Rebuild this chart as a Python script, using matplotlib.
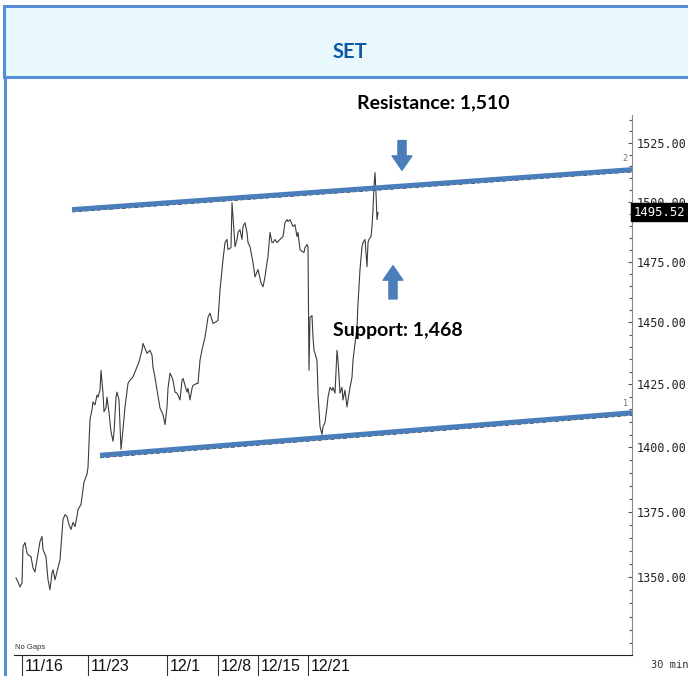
import matplotlib
matplotlib.use("Agg")
import matplotlib.pyplot as plt
import matplotlib.transforms as mtransforms
from matplotlib.patches import Rectangle
from matplotlib.lines import Line2D
from matplotlib.ticker import FixedLocator, FixedFormatter, NullFormatter

# 30 min bars (bar index) and close prices
bars = [0, 2, 4, 6, 7, 9, 11, 12, 15, 17, 19, 21, 24, 26, 27, 30, 32, 34, 36, 37,
        39, 42, 44, 47, 49, 51, 53, 55, 57, 59, 61, 62, 65, 67, 68, 71, 72, 73, 74, 76,
        77, 79, 81, 82, 84, 85, 87, 88, 90, 91, 93, 95, 97, 98, 100, 101, 103, 105, 106, 107,
        109, 112, 114, 117, 121, 123, 126, 127, 129, 131, 134, 136, 137, 139, 141, 144, 147, 149, 151, 152,
        154, 156, 157, 159, 161, 162, 164, 166, 167, 169, 171, 172, 174, 176, 177, 181, 182, 184, 186, 189,
        192, 194, 197, 199, 202, 204, 207, 209, 211, 212, 215, 216, 217, 219, 221, 222, 224, 226, 227, 229,
        231, 232, 234, 237, 239, 242, 245, 247, 249, 251, 252, 254, 256, 257, 259, 261, 264, 267, 269, 271,
        272, 274, 277, 279, 281, 282, 284, 286, 288, 289, 291, 292, 293, 294, 296, 297, 298, 299, 301, 302,
        304, 306, 307, 309, 311, 312, 314, 316, 317, 319, 321, 322, 323, 324, 326, 327, 329, 331, 332, 334,
        336, 337, 339, 341, 342, 344, 346, 347, 349, 351, 352, 353, 355, 356, 357, 358, 359, 360, 361, 362]

close = [1349.6, 1348.1, 1346.2, 1347.7, 1361.5, 1363.1, 1359.2, 1358.4, 1357.7, 1353.4,
         1351.9, 1356.5, 1363.5, 1365.4, 1360.4, 1357.7, 1348.9, 1345.1, 1351.5, 1352.7,
         1348.9, 1353.4, 1356.5, 1371.9, 1373.8, 1373.1, 1370.0, 1368.1, 1370.8, 1369.2,
         1373.1, 1375.8, 1377.7, 1383.6, 1386.4, 1389.5, 1392.2, 1402.0, 1411.0, 1414.9,
         1418.0, 1416.8, 1420.7, 1419.9, 1422.7, 1430.6, 1421.5, 1414.1, 1415.7, 1419.9,
         1413.7, 1406.3, 1402.4, 1405.9, 1419.9, 1421.9, 1418.8, 1399.2, 1403.2, 1407.1,
         1416.0, 1425.4, 1426.7, 1428.0, 1432.0, 1434.0, 1438.9, 1441.5, 1439.5, 1437.5,
         1438.7, 1436.7, 1431.9, 1427.8, 1422.7, 1415.6, 1412.9, 1409.0, 1416.0, 1423.4,
         1429.5, 1427.8, 1426.6, 1421.9, 1421.5, 1420.7, 1418.8, 1426.6, 1427.4, 1424.6,
         1421.9, 1423.4, 1418.8, 1423.4, 1424.6, 1425.4, 1425.4, 1434.7, 1438.9, 1444.0,
         1452.1, 1453.8, 1449.6, 1450.0, 1450.8, 1463.3, 1475.8, 1482.9, 1484.2, 1480.0,
         1480.8, 1499.6, 1493.7, 1481.2, 1484.2, 1487.1, 1488.3, 1484.2, 1489.6, 1491.2,
         1487.1, 1482.9, 1481.2, 1474.6, 1468.7, 1471.7, 1466.2, 1464.6, 1468.7, 1474.6,
         1477.1, 1487.1, 1482.9, 1482.9, 1484.2, 1482.9, 1484.2, 1485.4, 1491.2, 1492.5,
         1491.7, 1492.5, 1489.6, 1490.4, 1485.4, 1487.1, 1480.0, 1479.2, 1478.8, 1480.8,
         1482.1, 1481.2, 1430.6, 1452.1, 1452.8, 1444.0, 1438.7, 1437.5, 1434.6, 1421.5,
         1408.2, 1405.1, 1408.2, 1409.8, 1416.0, 1419.9, 1423.8, 1422.6, 1423.8, 1421.5,
         1438.7, 1434.7, 1427.8, 1421.5, 1423.8, 1418.8, 1422.7, 1416.0, 1418.8, 1423.8,
         1427.8, 1434.6, 1441.5, 1448.0, 1457.7, 1471.7, 1481.2, 1482.9, 1484.2, 1472.9,
         1482.9, 1484.2, 1485.4, 1489.6, 1496.7, 1506.4, 1512.3, 1503.8, 1492.5, 1495.52]

last_price = 1495.52

# trend lines (start bar, end bar, start price, end price)
resistance_bars = [56, 616]
resistance_px = [1496.7, 1513.6]
support_bars = [84, 616]
support_px = [1396.9, 1413.7]

date_bars = [6, 72, 151, 202, 242, 292]
date_labels = ["11/16", "11/23", "12/1", "12/8", "12/15", "12/21"]

y_ticks = [1350, 1375, 1400, 1425, 1450, 1475, 1500, 1525]
y_minor = list(range(1325, 1540, 5))

blue = "#4a7ebb"
W, H = 688, 676

fig = plt.figure(figsize=(W / 100, H / 100), dpi=100)

# header box and frame
fig.patches.append(Rectangle((4 / W, 1 - 77 / H), 1.2, 71 / H, transform=fig.transFigure,
                             facecolor="#e9f8fc", edgecolor="#558ed5", linewidth=2.2, zorder=0))
fig.lines.append(Line2D([4.5 / W, 4.5 / W], [0, 1 - 77 / H], transform=fig.transFigure,
                        color="#558ed5", linewidth=2.2))
fig.text(350 / W, 1 - 52 / H, "SET", ha="center", va="center", color="#0b5aa6",
         fontsize=14.5, fontweight="bold", family=["Lato", "DejaVu Sans"])

ax = fig.add_axes([14 / W, 21 / H, (632 - 14) / W, (655 - 115) / H])
ax.set_yscale("log")
ax.set_xlim(-2, 616)
ax.set_ylim(1320.7, 1537.0)

ax.plot(bars, close, color="#3c3c3c", linewidth=0.8, zorder=3)

# original thin black trend lines just under the blue ones
ax.plot(resistance_bars, [p - 1.0 for p in resistance_px], color="black", linewidth=0.5,
        dashes=(6, 3), zorder=2)
ax.plot(support_bars, [p - 1.0 for p in support_px], color="black", linewidth=0.5,
        dashes=(6, 3), zorder=2)
ax.plot(resistance_bars, resistance_px, color=blue, linewidth=3.6, solid_capstyle="butt", zorder=4)
ax.plot(support_bars, support_px, color=blue, linewidth=3.6, solid_capstyle="butt", zorder=4)
ax.text(609, 1516.5, "2", fontsize=6, color="#777777", ha="center", va="bottom")
ax.text(609, 1415.6, "1", fontsize=6, color="#777777", ha="center", va="bottom")

# arrows and labels
arrow = dict(arrowstyle="simple,head_length=0.8,head_width=1.1,tail_width=0.45",
             color=blue, mutation_scale=13, shrinkA=0, shrinkB=0)
ax.annotate("", xy=(386, 1513.3), xytext=(386, 1526.0), arrowprops=arrow, annotation_clip=False)
ax.annotate("", xy=(377, 1473.3), xytext=(377, 1459.6), arrowprops=arrow)
ax.text(417, 1542.2, "Resistance: 1,510", ha="center", va="center", fontsize=14,
        fontweight="bold", family=["Lato", "DejaVu Sans"], clip_on=False)
ax.text(382, 1446.8, "Support: 1,468", ha="center", va="center", fontsize=14,
        fontweight="bold", family=["Lato", "DejaVu Sans"])

ax.text(0.002, 0.012, "No Gaps", transform=ax.transAxes, fontsize=5.5, color="#333333",
        family=["Liberation Sans", "DejaVu Sans"])

# axes styling
for s in ["left", "top"]:
    ax.spines[s].set_visible(False)
ax.spines["right"].set_color("#8a8a8a")
ax.spines["bottom"].set_color("#222222")
ax.yaxis.tick_right()
ax.yaxis.set_major_locator(FixedLocator(y_ticks))
ax.yaxis.set_major_formatter(FixedFormatter([f"{v:.2f}" for v in y_ticks]))
ax.yaxis.set_minor_locator(FixedLocator(y_minor))
ax.yaxis.set_minor_formatter(NullFormatter())
ax.tick_params(axis="y", which="both", direction="in", length=3, width=0.8, color="#555555",
               labelsize=8.5, pad=3)
ax.tick_params(axis="y", which="minor", length=2)
for lab in ax.get_yticklabels():
    lab.set_family(["DejaVu Sans Mono"])
    lab.set_color("#222222")

ax.set_xticks(date_bars)
ax.set_xticklabels([])
ax.tick_params(axis="x", direction="out", length=18, width=0.8, color="#333333")
trans = mtransforms.blended_transform_factory(ax.transData, ax.transAxes)
for b, lab in zip(date_bars, date_labels):
    ax.text(b + 3, -0.008, lab, transform=trans, ha="left", va="top", fontsize=11.5,
            family=["Liberation Sans", "DejaVu Sans"], color="#111111", clip_on=False)
ax.text(1.03, -0.01, "30 min", transform=ax.transAxes, ha="left", va="top", fontsize=7.5,
        family=["DejaVu Sans Mono"], color="#333333")

# last price box
ytrans = mtransforms.blended_transform_factory(ax.transAxes, ax.transData)
ax.text(1.002, last_price, f"{last_price:.2f}", transform=ytrans, ha="left", va="center",
        fontsize=8.8, family=["DejaVu Sans Mono"], color="white", zorder=10, clip_on=False,
        bbox=dict(boxstyle="square,pad=0.2", facecolor="black", edgecolor="black"))

fig.savefig("out.png", dpi=100)
